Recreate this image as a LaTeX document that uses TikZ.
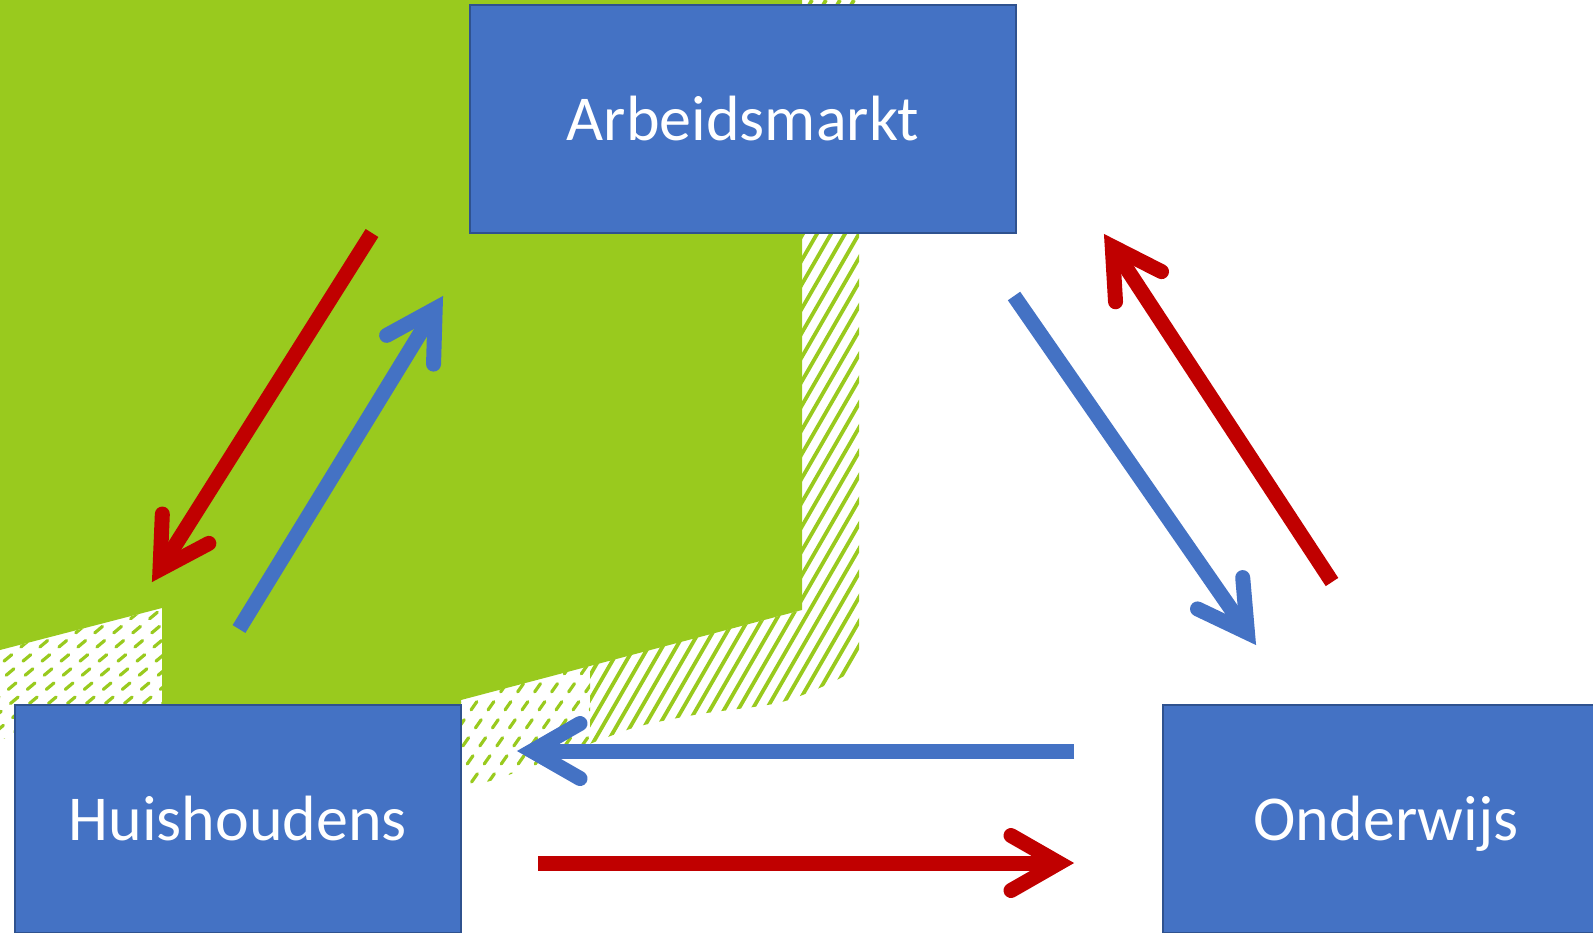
\documentclass[tikz,border=0pt]{standalone}
\usepackage{fontspec}
\setmainfont{Carlito}
\usetikzlibrary{calc}
\definecolor{grn}{RGB}{153,202,30}
\definecolor{boxblue}{RGB}{68,114,196}
\definecolor{boxedge}{RGB}{47,82,143}
\definecolor{arrred}{RGB}{192,0,0}
\newcommand{\flowarrow}[3]{%
  \coordinate (#3-v) at ($(#3)!7.5pt!(#2)$);
  \coordinate (#3-b) at ($(#3-v)!24pt!(#2)$);
  \coordinate (#3-l) at ($(#3-b)!13.75pt!90:(#3-v)$);
  \coordinate (#3-r) at ($(#3-b)!13.75pt!-90:(#3-v)$);
  \draw[shaft,draw=#1] (#2) -- (#3-v);
  \draw[barb,draw=#1] (#3-l) -- (#3-v) -- (#3-r);
}
\begin{document}
\begin{tikzpicture}[x=0.5pt,y=-0.5pt,
  shaft/.style={line width=7.5pt,line cap=butt},
  barb/.style={line width=7.5pt,line cap=round,line join=miter},
  hatchsolid/.style={draw=grn,line width=1.9pt},
  hatchdash/.style={draw=grn,line width=1.6pt,line cap=round,dash pattern=on 5pt off 6pt},
  box/.style={draw=boxedge,fill=boxblue,line width=1pt,text=white,
    font=\fontsize{32}{38}\selectfont,inner sep=0pt,
    text height=22pt,text depth=1pt,minimum height=114pt}]
\useasboundingbox (0,0) rectangle (1593,932);
\clip (0,0) rectangle (1593,932);
% green block
\fill[grn] (0,0) -- (802,0) -- (802,610) -- (461,700) -- (461,720)
  -- (162,720) -- (162,608) -- (0,650) -- cycle;
% lower-left dashed hatch
\begin{scope}
  \clip (0,650) -- (162,608) -- (162,706) -- (15,706) -- (15,735) -- (0,740) -- cycle;
  \foreach \k in {-12,...,10} \draw[hatchdash] ({\k*19},760) -- ({\k*19+191},600);
\end{scope}
% right / bottom hatch
\begin{scope}
  \clip (802,0) -- (859,0) -- (859,650)
    -- plot[smooth] coordinates {(859,650) (850,672) (810,692) (773,704) (700,714) (640,726) (600,740) (523,770) (455,792)}
    -- (455,700) -- (802,610) -- cycle;
  \begin{scope}
    \clip (590,0) rectangle (870,800);
    \foreach \k in {0,...,62} \draw[hatchsolid] ({\k*14},800) -- ({\k*14+462},0);
  \end{scope}
  \begin{scope}
    \clip (440,0) rectangle (590,800);
    \foreach \k in {16,...,36} \draw[hatchdash] ({\k*17},800) -- ({\k*17+560},0);
  \end{scope}
\end{scope}
% boxes
\node[box,minimum width=273pt] (arb) at (743,119) {Arbeidsmarkt};
\node[box,minimum width=223pt] (hh) at (238,819) {Huishoudens};
\node[box,minimum width=223pt] (ond) at (1386,819) {Onderwijs};
% arrow end points
\coordinate (r1s) at (372,233); \coordinate (r1e) at (152,582);
\coordinate (b1s) at (239,629); \coordinate (b1e) at (443,296);
\coordinate (b2s) at (1014,296); \coordinate (b2e) at (1256,645);
\coordinate (r2s) at (1332,582); \coordinate (r2e) at (1104,234);
\coordinate (b3s) at (1074,751); \coordinate (b3e) at (517,751);
\coordinate (r3s) at (538,863); \coordinate (r3e) at (1074,863);
\flowarrow{arrred}{r1s}{r1e}
\flowarrow{boxblue}{b1s}{b1e}
\flowarrow{boxblue}{b2s}{b2e}
\flowarrow{arrred}{r2s}{r2e}
\flowarrow{boxblue}{b3s}{b3e}
\flowarrow{arrred}{r3s}{r3e}
\end{tikzpicture}
\end{document}
